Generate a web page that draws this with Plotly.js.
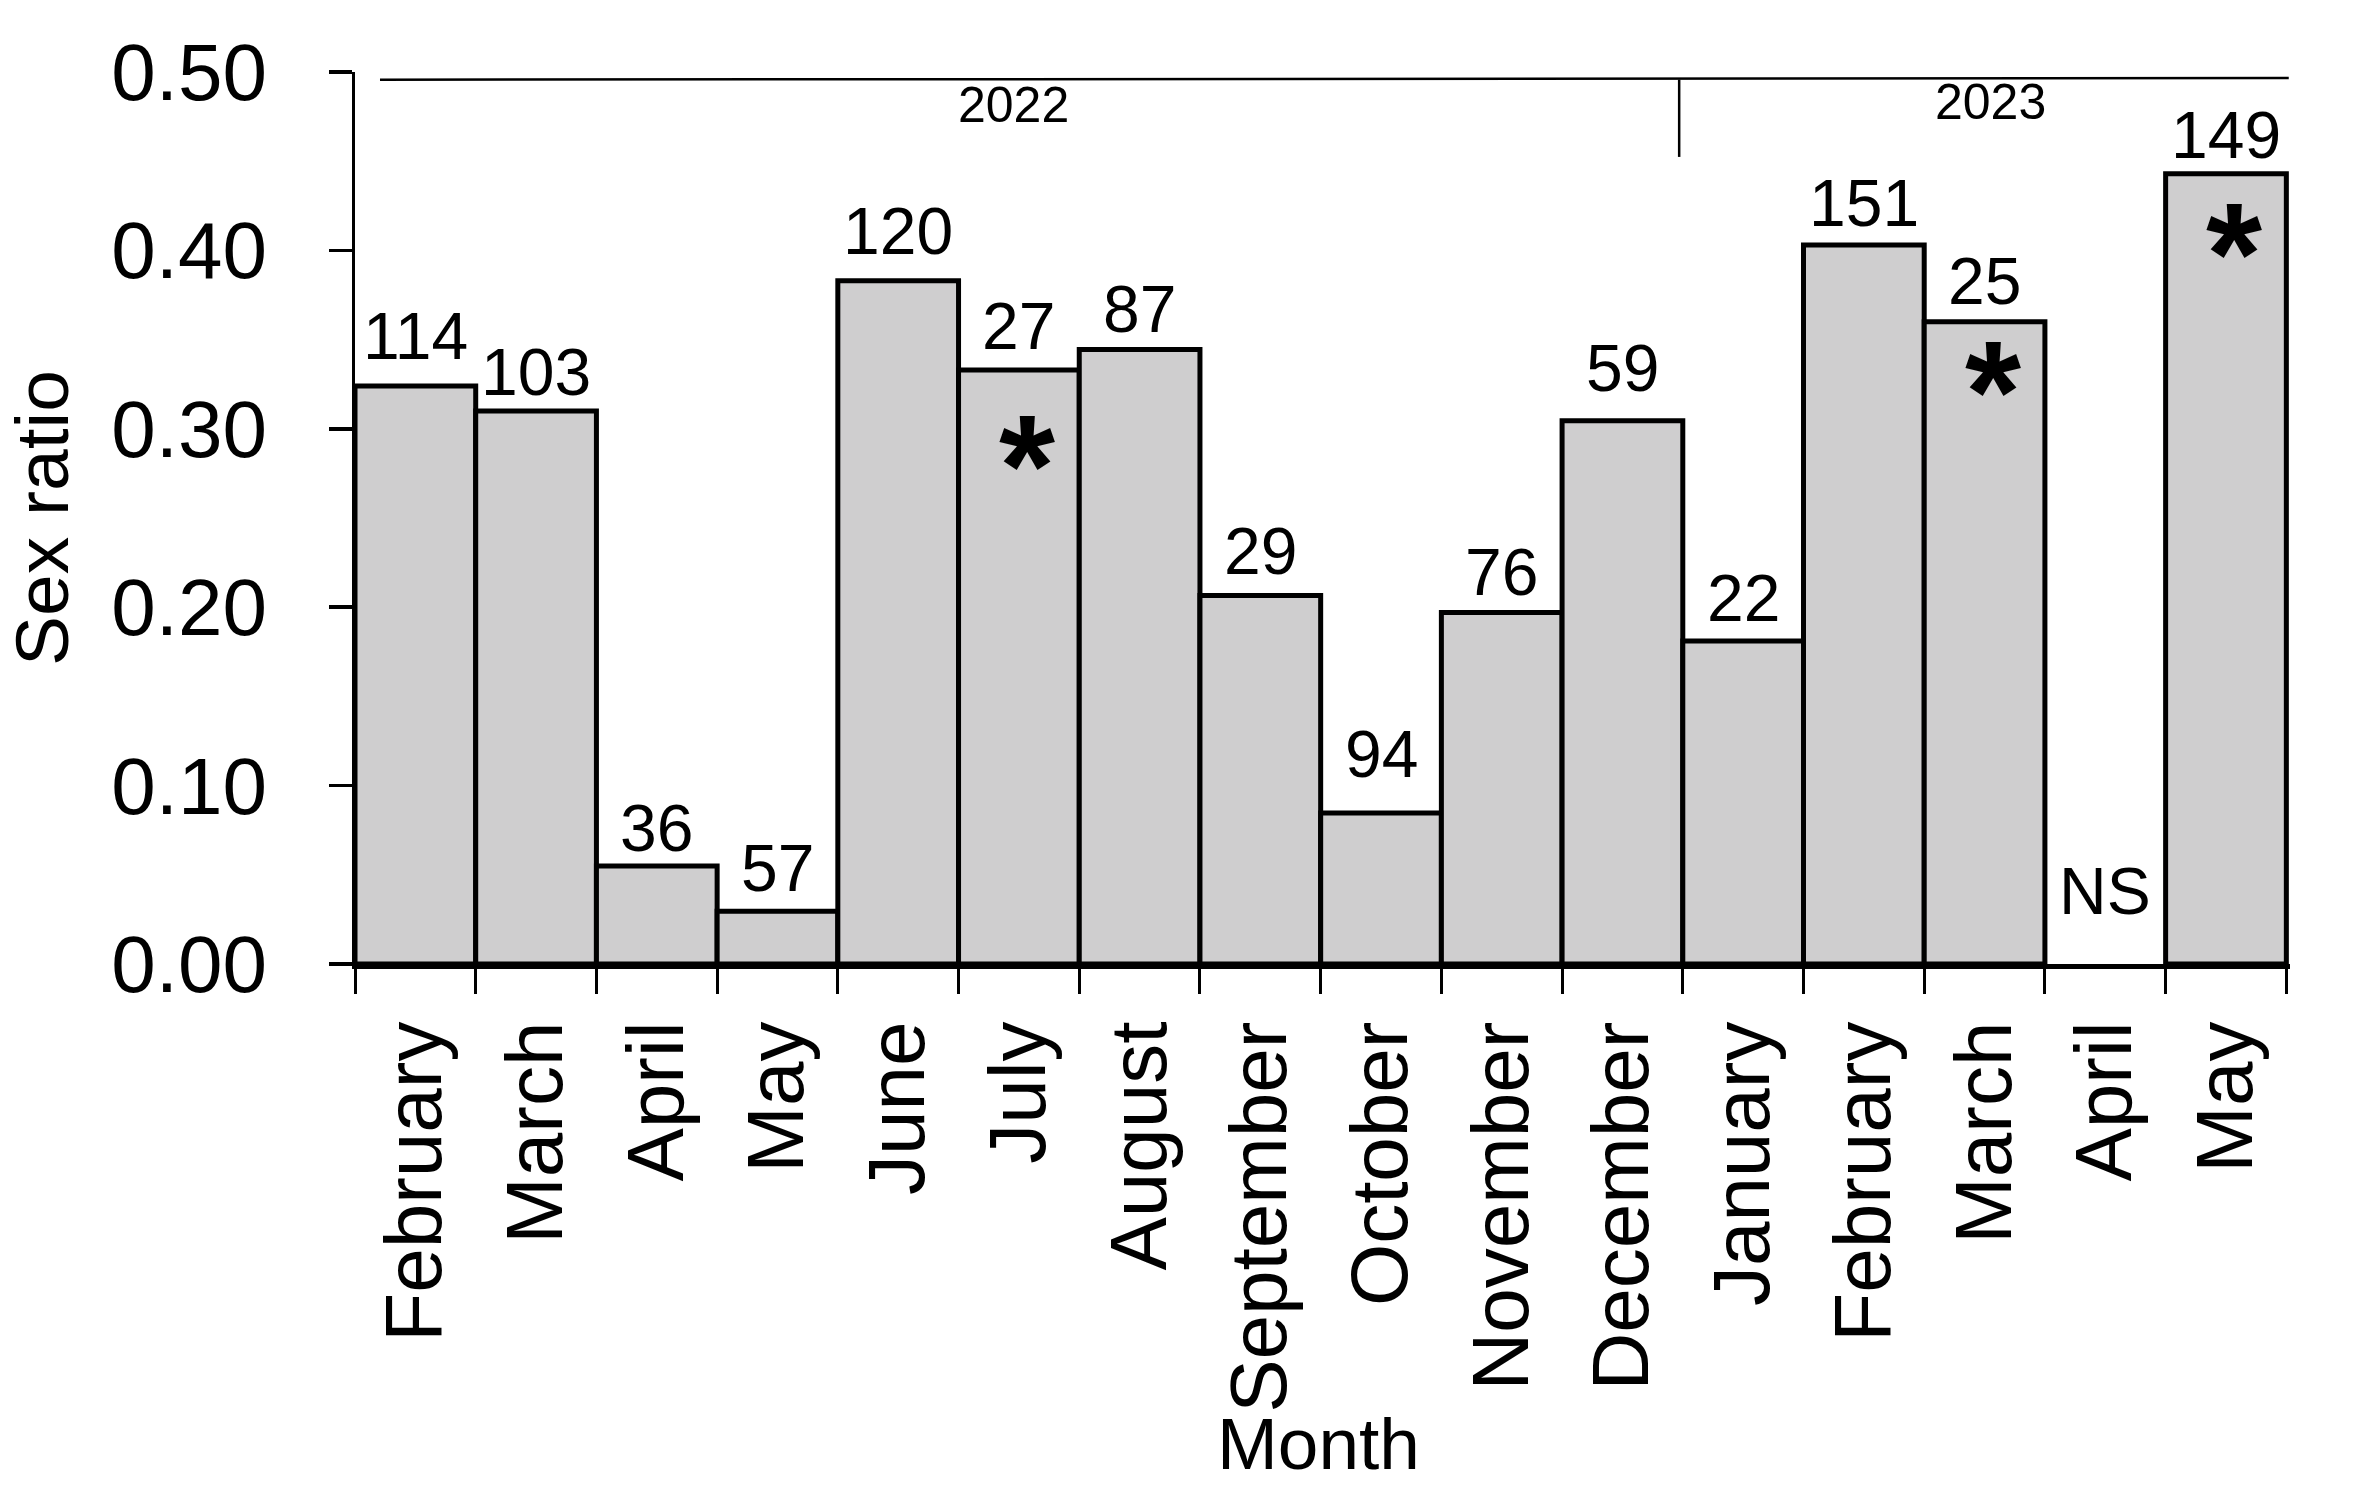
<!DOCTYPE html>
<html>
<head>
<meta charset="utf-8">
<script src="https://cdn.plot.ly/plotly-3.0.1.min.js"></script>
<style>
  html, body { margin: 0; padding: 0; background: #ffffff; }
  #chart { width: 2370px; height: 1489px; }
</style>
</head>
<body>
<div id="chart"></div>
<script>
// ---- data ----
const monthKeys = ['2022-02','2022-03','2022-04','2022-05','2022-06','2022-07','2022-08','2022-09',
                   '2022-10','2022-11','2022-12','2023-01','2023-02','2023-03','2023-04','2023-05'];
const monthNames = ['February','March','April','May','June','July','August','September',
                    'October','November','December','January','February','March','April','May'];
const sexRatio = [0.324, 0.310, 0.055, 0.0295, 0.383, 0.333, 0.3445, 0.2065,
                  0.0846, 0.197, 0.3045, 0.181, 0.403, 0.360, null, 0.443];
const sampleSize = ['114','103','36','57','120','27','87','29','94','76','59','22','151','25','NS','149'];
const significant = ['','','','','','*','','','','','','','','*','','*'];
const yearLabels = ['2022','2023'];
const yearCenters = [4.955, 13.05];   // category-index position of each year label
const xTitle = 'Month';
const yTitle = 'Sex ratio';

// ---- style / placement helpers (not data) ----
const FONT = 'Liberation Sans, Arial, sans-serif';
const labelGap = [26,15,14,19,26,20,16,21,35,17,29,19,18,17,49,15]; // px from bar top to label baseline
const starDrop = [0,0,0,0,0,67,0,0,0,0,0,0,0,41,0,51];           // px from bar top to asterisk centre
const LABEL_SIZE = 66;
const STAR_SIZE = 144;

const annotations = [];
monthKeys.forEach((k, i) => {
  annotations.push({
    x: k, y: sexRatio[i] === null ? 0 : sexRatio[i], xref: 'x', yref: 'y',
    text: sampleSize[i], showarrow: false, yanchor: 'bottom', xanchor: 'center',
    yshift: labelGap[i] - 0.212 * LABEL_SIZE - 1,
    font: { family: FONT, size: LABEL_SIZE, color: '#000' }
  });
  if (significant[i]) {
    annotations.push({
      x: k, y: sexRatio[i], xref: 'x', yref: 'y',
      text: '<b>' + significant[i] + '</b>', showarrow: false, yanchor: 'middle', xanchor: 'center',
      xshift: 8,
      yshift: -starDrop[i] - 0.205 * STAR_SIZE,
      font: { family: FONT, size: STAR_SIZE, color: '#000' }
    });
  }
});
yearLabels.forEach((t, j) => {
  annotations.push({
    x: yearCenters[j], y: j === 0 ? 0.4814 : 0.4831, xref: 'x', yref: 'y',
    text: t, showarrow: false, yanchor: 'middle', xanchor: 'center',
    font: { family: FONT, size: 50, color: '#000' }
  });
});
// x-axis title placed as an annotation below the rotated month labels
annotations.push({
  x: 0.498, y: 0, xref: 'paper', yref: 'paper',
  text: xTitle, showarrow: false, xanchor: 'center', yanchor: 'bottom',
  yshift: -522,
  font: { family: FONT, size: 73, color: '#000' }
});

const shapes = [
  { type: 'line', xref: 'x', yref: 'y', x0: -0.293, x1: 15.52, y0: 0.4957, y1: 0.4966,
    line: { color: '#000', width: 2.5 } },
  { type: 'line', xref: 'x', yref: 'y', x0: 10.47, x1: 10.47, y0: 0.4957, y1: 0.4524,
    line: { color: '#000', width: 2.5 } }
];

const trace = {
  type: 'bar',
  x: monthKeys,
  y: sexRatio,
  marker: { color: '#cfcecf', line: { color: '#000', width: 5 } },
  hoverinfo: 'skip'
};

const layout = {
  width: 2370, height: 1489,
  margin: { l: 355, r: 80, t: 72, b: 525, pad: 0 },
  paper_bgcolor: '#ffffff', plot_bgcolor: '#ffffff',
  showlegend: false,
  bargap: 0,
  font: { family: FONT, color: '#000' },
  xaxis: {
    type: 'category',
    tickmode: 'array', tickvals: monthKeys, ticktext: monthNames,
    tickson: 'boundaries',
    tickangle: -90,
    tickfont: { family: FONT, size: 80, color: '#000' },
    ticks: 'outside', ticklen: 25, tickwidth: 3, tickcolor: '#000',
    ticklabelstandoff: 21,
    showline: true, linecolor: '#000', linewidth: 4.5,
    showgrid: false, zeroline: false,
    automargin: false
  },
  yaxis: {
    range: [0, 0.5],
    tickmode: 'linear', tick0: 0, dtick: 0.1, tickformat: '.2f',
    tickfont: { family: FONT, size: 80, color: '#000' },
    ticks: 'outside', ticklen: 23, tickwidth: 3.5, tickcolor: '#000',
    ticklabelstandoff: 46,
    showline: true, linecolor: '#000', linewidth: 3,
    showgrid: false, zeroline: false,
    automargin: false,
    title: { text: yTitle, font: { family: FONT, size: 75, color: '#000' }, standoff: 54 }
  },
  annotations: annotations,
  shapes: shapes
};

Plotly.newPlot('chart', [trace], layout, { staticPlot: true, displayModeBar: false });
</script>
</body>
</html>
